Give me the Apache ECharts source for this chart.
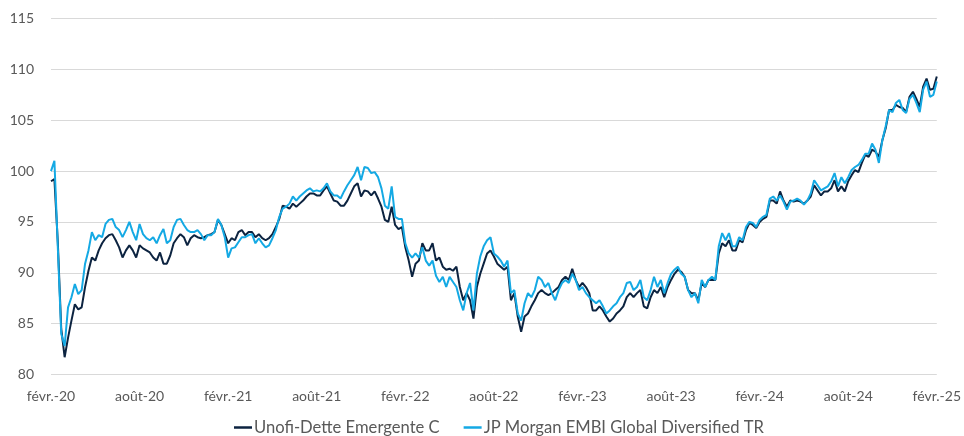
<!DOCTYPE html>
<html>
<head>
<meta charset="utf-8">
<title>Unofi-Dette Emergente C vs JP Morgan EMBI</title>
<script src="https://cdn.jsdelivr.net/npm/echarts@6/dist/echarts.min.js"></script>
<style>
  html, body { margin: 0; padding: 0; background: #fff; }
  #chart { width: 964px; height: 436px; }
</style>
</head>
<body>
<div id="chart"></div>
<script>
// weekly points, febr. 2020 -> febr. 2025 (26 points per half-year)
var tickLabels = ['févr.-20', 'août-20', 'févr.-21', 'août-21', 'févr.-22', 'août-22',
  'févr.-23', 'août-23', 'févr.-24', 'août-24', 'févr.-25'];
var STEP = 26;

var unofi = [
  99.0, 99.2, 93.0, 84.5, 81.7, 83.6, 85.3, 86.9, 86.4, 86.6,
  88.6, 90.2, 91.5, 91.2, 92.2, 92.9, 93.4, 93.7, 93.8, 93.2,
  92.5, 91.5, 92.2, 92.7, 92.2, 91.5, 92.7, 92.4, 92.2, 92.0,
  91.5, 91.2, 92.0, 90.9, 90.9, 91.7, 92.9, 93.4, 93.8, 93.5,
  92.7, 93.4, 93.7, 93.5, 93.4, 93.5, 93.7, 93.8, 94.0, 95.2,
  94.7, 93.8, 92.9, 93.4, 93.2, 94.0, 94.2, 93.7, 94.0, 94.0,
  93.5, 93.8, 93.4, 93.2, 93.4, 93.8, 94.5, 95.3, 96.6, 96.5,
  96.3, 96.8, 96.5, 96.8, 97.1, 97.5, 97.8, 97.8, 97.6, 97.6,
  98.1, 98.5, 97.8, 97.1, 97.0, 96.6, 96.6, 97.1, 97.8, 98.5,
  98.8, 97.5, 98.1, 98.0, 97.6, 98.0, 97.3, 96.5, 95.2, 95.0,
  96.5, 94.7, 94.3, 94.5, 92.5, 91.2, 89.6, 90.9, 91.2, 92.9,
  92.2, 92.2, 92.9, 91.2, 91.5, 90.6, 90.3, 90.4, 90.2, 90.6,
  88.6, 87.3, 88.0, 87.3, 85.5, 88.6, 89.9, 90.9, 91.9, 92.2,
  91.6, 90.9, 90.6, 90.3, 90.6, 87.3, 88.0, 85.7, 84.2, 85.7,
  86.0, 86.7, 87.3, 88.0, 88.3, 88.0, 87.8, 88.0, 88.3, 88.6,
  89.3, 89.6, 89.3, 90.4, 89.3, 88.6, 89.0, 88.6, 88.0, 86.3,
  86.3, 86.7, 86.3, 85.7, 85.2, 85.5, 86.0, 86.3, 86.7, 87.6,
  88.0, 87.6, 88.0, 88.3, 86.7, 86.5, 87.6, 88.3, 88.0, 88.6,
  87.6, 88.6, 89.3, 89.9, 90.3, 90.1, 89.6, 88.3, 88.0, 88.0,
  87.3, 89.0, 88.6, 89.3, 89.3, 89.3, 91.9, 92.9, 92.6, 93.2,
  92.2, 92.2, 93.2, 93.0, 94.2, 94.9, 94.7, 94.4, 95.0, 95.3,
  95.5, 97.1, 97.1, 96.8, 98.0, 97.1, 96.5, 97.1, 97.0, 97.1,
  97.0, 96.8, 97.1, 97.5, 98.6, 98.1, 97.6, 98.0, 98.0, 98.3,
  99.1, 98.0, 98.5, 98.0, 99.0, 99.6, 100.1, 99.9, 100.8, 101.6,
  101.4, 102.1, 101.9, 101.4, 103.0, 104.2, 106.0, 106.0, 106.5, 106.3,
  106.2, 105.8, 107.3, 107.8, 107.1, 106.3, 108.3, 109.1, 108.0, 108.1,
  109.3
];

var embi = [
  100.0, 101.0, 92.5, 84.0, 82.8, 86.6, 87.6, 88.9, 87.9, 88.3,
  90.9, 92.2, 94.0, 93.2, 93.7, 93.5, 94.8, 95.2, 95.3, 94.5,
  94.2, 93.5, 94.2, 95.0, 94.0, 93.2, 94.8, 93.8, 93.4, 93.2,
  93.5, 92.9, 93.7, 94.3, 92.9, 93.2, 94.5, 95.2, 95.3, 94.7,
  94.2, 94.0, 94.0, 94.2, 93.8, 93.2, 93.7, 93.7, 94.0, 95.3,
  94.7, 93.5, 91.5, 92.4, 92.5, 93.0, 93.5, 93.5, 93.7, 93.8,
  92.9, 93.4, 92.9, 92.5, 92.7, 93.4, 94.2, 95.5, 96.3, 96.5,
  96.8, 97.5, 97.1, 97.5, 97.8, 98.1, 98.3, 98.0, 98.1, 98.0,
  98.3, 98.8, 98.0, 97.6, 97.6, 97.3, 98.0, 98.6, 99.1, 99.6,
  100.4, 99.1, 100.4, 100.3, 99.8, 99.9, 99.4, 98.3, 96.6, 96.3,
  98.5, 95.5, 95.3, 95.3, 92.9, 91.9, 91.5, 91.9, 91.5, 92.5,
  91.2, 90.7, 91.2, 89.7, 89.1, 89.6, 88.6, 89.6, 89.1, 88.6,
  87.3, 86.3, 88.0, 89.0, 86.3, 89.9, 91.6, 92.6, 93.2, 93.5,
  91.9, 91.6, 91.2, 90.6, 91.2, 88.0, 88.3, 86.0, 85.3, 87.0,
  88.0, 87.6, 88.3, 89.6, 89.3, 88.6, 89.0, 88.0, 87.3, 88.3,
  89.0, 89.3, 89.0, 89.9, 89.3, 88.3, 88.6, 88.0, 87.6, 87.3,
  87.0, 87.3, 86.7, 86.0, 86.3, 86.7, 87.0, 87.6, 88.0, 89.0,
  89.1, 88.3, 88.6, 89.3, 87.6, 87.3, 88.3, 89.6, 88.6, 89.3,
  88.0, 89.0, 89.9, 90.3, 90.6, 89.9, 89.6, 88.3, 87.6, 88.0,
  87.0, 89.3, 88.6, 89.3, 89.6, 89.3, 92.6, 93.9, 93.2, 93.9,
  92.6, 92.6, 93.5, 93.2, 94.5, 95.0, 94.9, 94.5, 95.2, 95.5,
  95.7, 97.3, 97.5, 97.1, 97.6, 97.0, 96.2, 97.0, 97.1, 97.3,
  97.1, 96.7, 97.1, 97.8, 99.1, 98.6, 98.1, 98.3, 98.5, 99.0,
  99.8, 98.5, 99.4, 98.8, 99.4, 100.1, 100.4, 100.6, 101.1, 101.7,
  101.7, 102.7, 102.1, 100.8, 103.0, 104.4, 106.0, 105.8, 106.7, 107.0,
  106.0, 105.7, 107.1, 107.5, 106.7, 105.8, 108.0, 108.8, 107.3, 107.5,
  108.8
];

// x categories: only every STEP-th week carries a label
var categories = [];
for (var i = 0; i < unofi.length; i++) {
  categories.push(i % STEP === 0 ? tickLabels[i / STEP] : '');
}

var font = 'Lato, "Open Sans", sans-serif';
var grey = '#595959';

var chart = echarts.init(document.getElementById('chart'), null, { renderer: 'canvas' });
chart.setOption({
  animation: false,
  textStyle: { fontFamily: font },
  grid: { left: 51, right: 27, top: 18.5, bottom: 61.5, containLabel: false },
  legend: {
    bottom: -5,
    left: 229,
    padding: 5,
    icon: 'rect',
    itemWidth: 18,
    itemHeight: 2.5,
    itemGap: 24,
    textStyle: { color: grey, fontSize: 16.6, fontFamily: font, padding: [0, 0, 0, -3] },
    data: ['Unofi-Dette Emergente C', 'JP Morgan EMBI Global Diversified TR']
  },
  xAxis: {
    type: 'category',
    boundaryGap: false,
    data: categories,
    axisLine: { show: false },
    axisTick: { show: false },
    axisLabel: {
      color: grey,
      fontSize: 14,
      margin: 15,
      interval: function (idx) { return idx % STEP === 0; }
    },
    splitLine: { show: false }
  },
  yAxis: {
    type: 'value',
    min: 80,
    max: 115,
    interval: 5,
    axisLine: { show: false },
    axisTick: { show: false },
    axisLabel: { color: grey, fontSize: 14, margin: 17 },
    splitLine: { lineStyle: { color: '#d9d9d9', width: 1 } }
  },
  series: [
    {
      name: 'Unofi-Dette Emergente C',
      type: 'line',
      data: unofi,
      showSymbol: false,
      color: '#0c2340',
      lineStyle: { width: 2, color: '#0c2340' }
    },
    {
      name: 'JP Morgan EMBI Global Diversified TR',
      type: 'line',
      data: embi,
      showSymbol: false,
      color: '#14a9e4',
      lineStyle: { width: 2, color: '#14a9e4' }
    }
  ]
});
</script>
</body>
</html>
